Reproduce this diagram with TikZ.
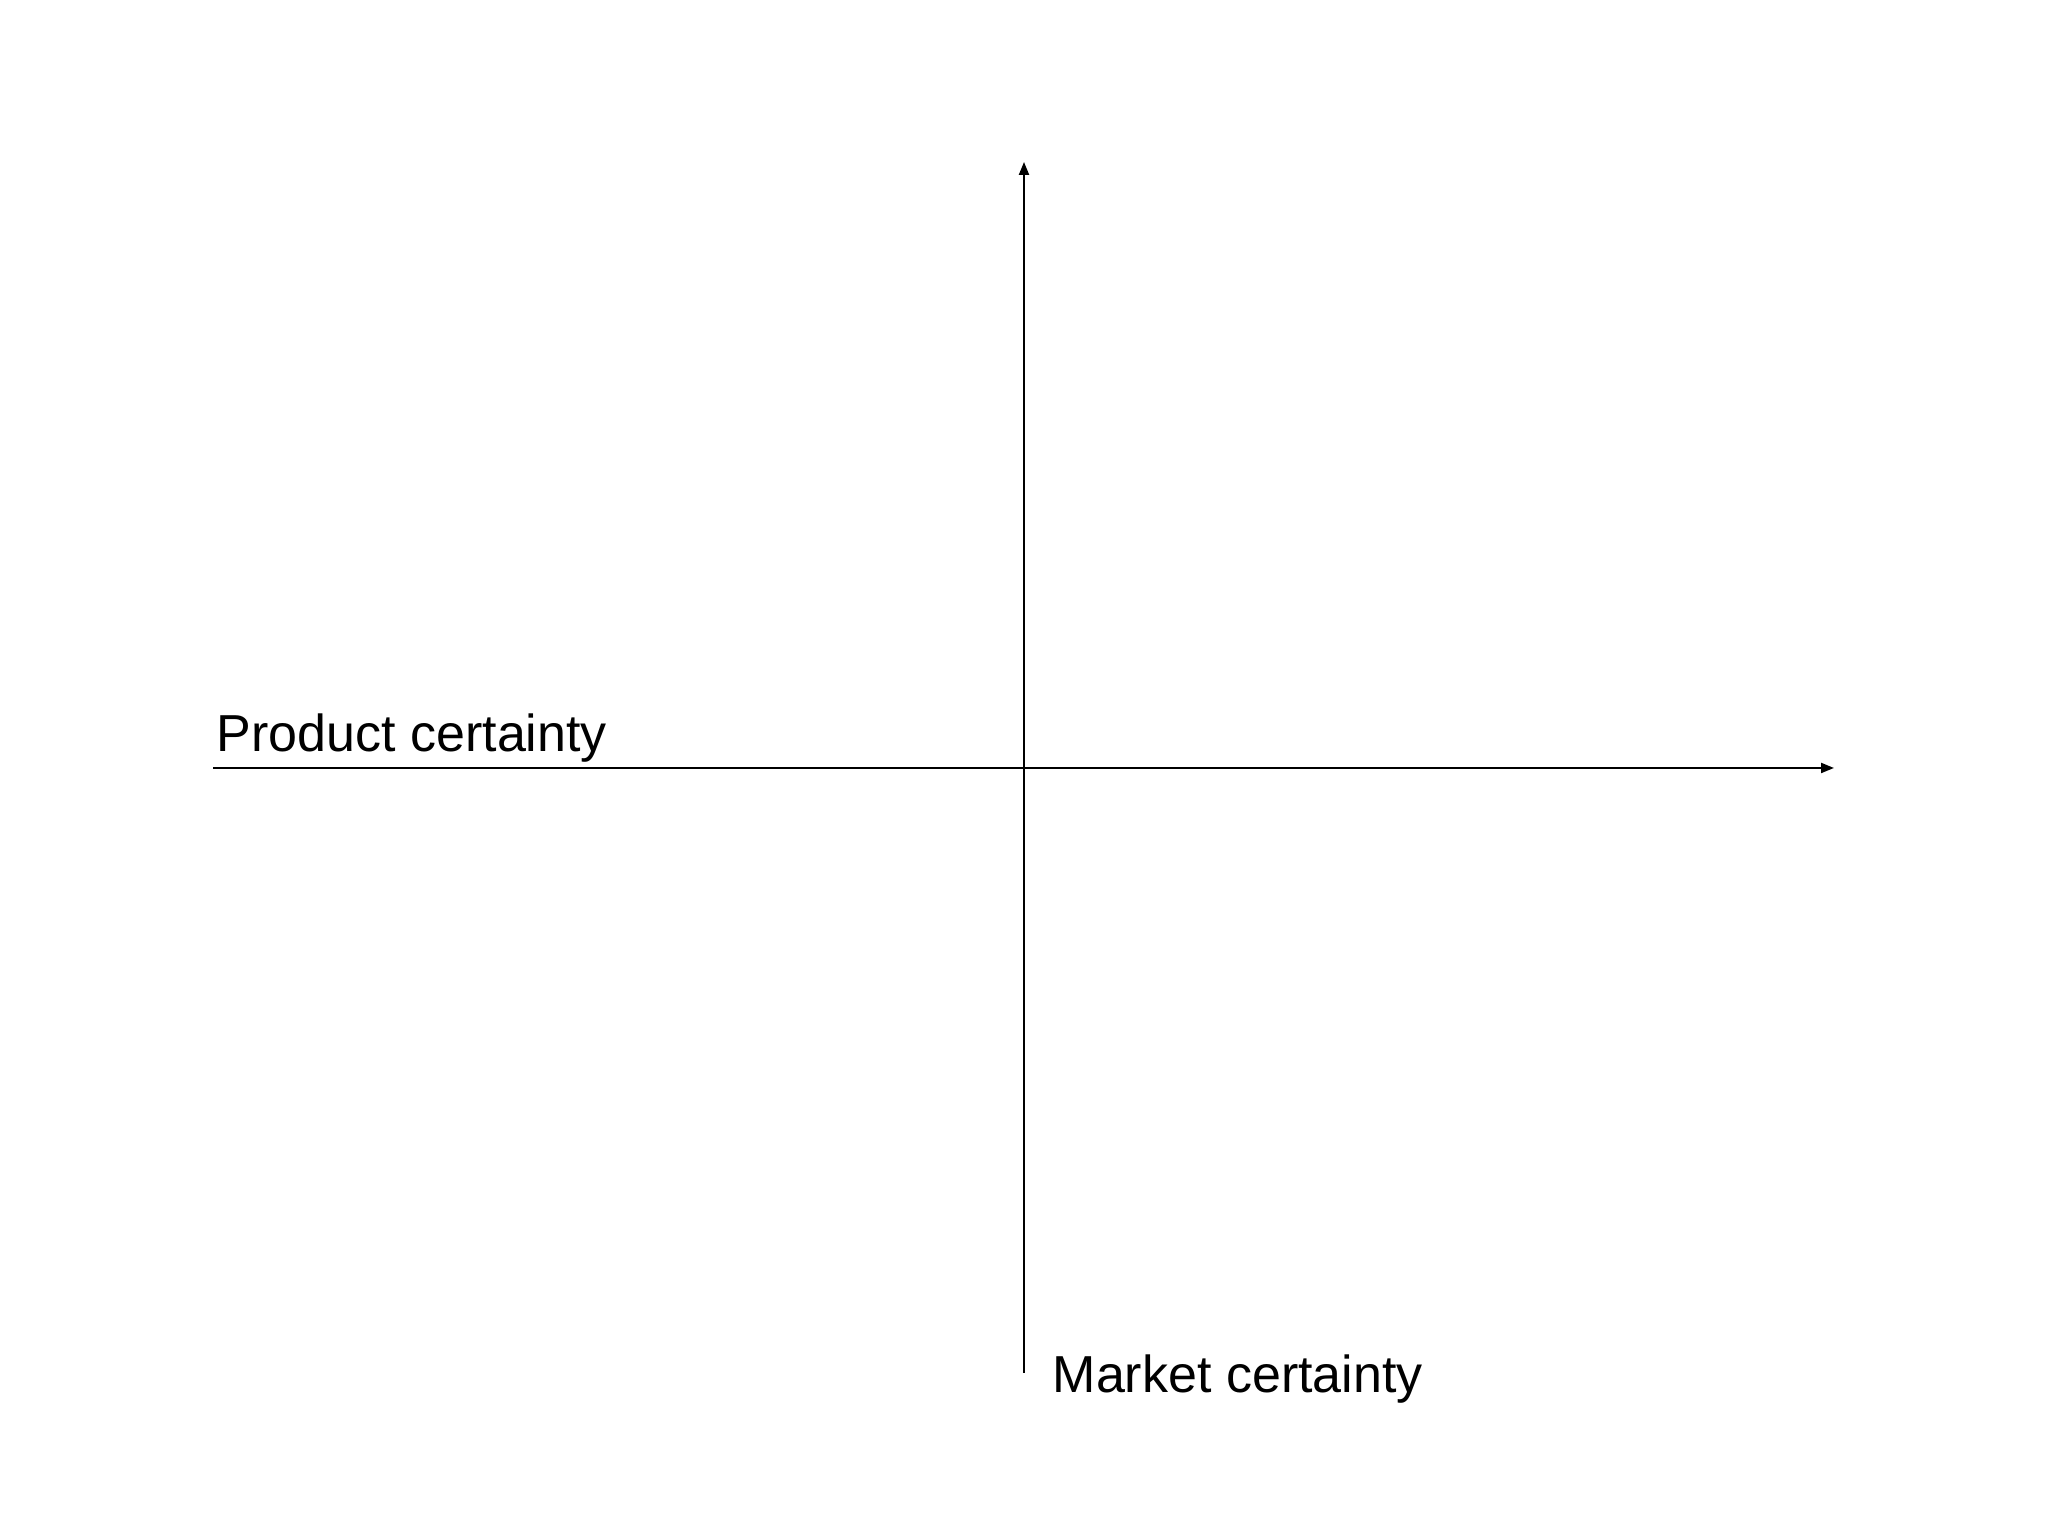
\documentclass[tikz,border=0pt]{standalone}
\usepackage{fontspec}
\usepackage{tikz}
\usetikzlibrary{arrows.meta}
\setmainfont{Liberation Sans}

\begin{document}
\begin{tikzpicture}[
  axis/.style={line width=0.6pt,-{Triangle[length=0.13cm,width=0.1cm]}},
  axislabel/.style={anchor=base west,inner sep=0pt,font=\fontsize{14.8}{18}\selectfont}
]
\useasboundingbox (0,0) rectangle (20.48,15.36);
\coordinate (origin) at (10.24,7.68);
\coordinate (left) at (2.13,7.68);
\coordinate (right) at (18.34,7.68);
\coordinate (bottom) at (10.24,1.63);
\coordinate (top) at (10.24,13.74);
\draw[axis] (left) -- (right);
\draw[axis] (bottom) -- (top);
\node [axislabel] (product) at (2.16,7.84) {Product certainty};
\node [axislabel] (market) at (10.52,1.43) {Market certainty};
\end{tikzpicture}
\end{document}
